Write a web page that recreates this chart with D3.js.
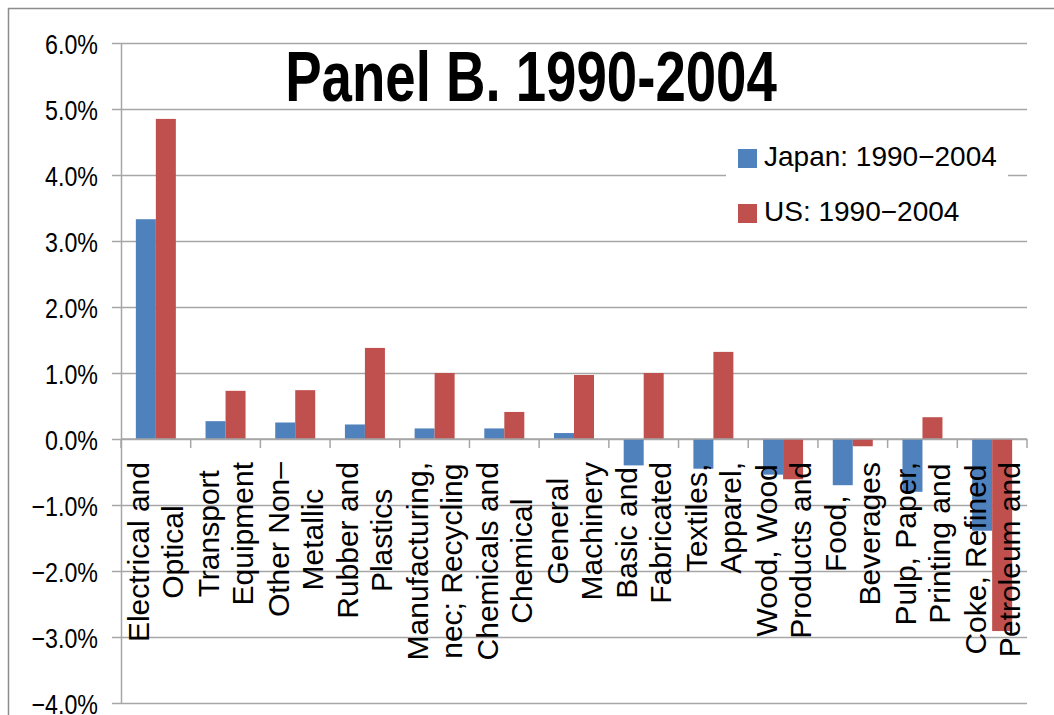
<!DOCTYPE html>
<html>
<head>
<meta charset="utf-8">
<script src="https://cdn.jsdelivr.net/npm/d3@7"></script>
<style>
  body { margin: 0; background: #fff; }
  svg { display: block; font-family: "Liberation Sans", Arial, sans-serif; }
</style>
</head>
<body>
<svg id="chart" width="1054" height="715"></svg>
<script>
// category labels, two lines each as wrapped in the original
const categories = [
  ['Electrical and', 'Optical'],
  ['Transport', 'Equipment'],
  ['Other Non\u2013', 'Metallic'],
  ['Rubber and', 'Plastics'],
  ['Manufacturing,', 'nec; Recycling'],
  ['Chemicals and', 'Chemical'],
  ['General', 'Machinery'],
  ['Basic and', 'Fabricated'],
  ['Textiles,', 'Apparel,'],
  ['Wood, Wood', 'Products and'],
  ['Food,', 'Beverages'],
  ['Pulp, Paper,', 'Printing and'],
  ['Coke, Refined', 'Petroleum and'],
];

const seriesNames = ['Japan: 1990\u22122004', 'US: 1990\u22122004'];
const seriesColors = ['#4F81BD', '#C0504D'];

// growth rates
const japan = [0.0333, 0.0027, 0.0025, 0.0022, 0.0016, 0.0016, 0.0009,
  -0.0040, -0.0045, -0.0054, -0.0070, -0.0080, -0.0139];
const us = [0.0485, 0.0073, 0.0074, 0.0138, 0.0100, 0.0041, 0.0097,
  0.0100, 0.0132, -0.0061, -0.0011, 0.0033, -0.0291];

const yTicks = [-0.04, -0.03, -0.02, -0.01, 0, 0.01, 0.02, 0.03, 0.04, 0.05, 0.06];

const margin = {top: 43, right: 1027, bottom: 703, left: 121};
const gridColor = '#a6a6a6';

const svg = d3.select('#chart');

// outer chart border (runs off the page on the right and bottom)
svg.append('rect')
    .attr('x', 8.5).attr('y', 8.5)
    .attr('width', 1100).attr('height', 800)
    .attr('fill', 'none')
    .attr('stroke', '#8c8c8c')
    .attr('stroke-width', 1.5);

const x0 = d3.scaleBand()
    .domain(d3.range(categories.length))
    .range([margin.left, margin.right]);

const bw = x0.bandwidth();
const x1 = d3.scaleBand()
    .domain([0, 1])
    .range([bw / 2 - 20, bw / 2 + 20]);

const y = d3.scaleLinear()
    .domain([-0.04, 0.06])
    .range([margin.bottom, margin.top]);

const fmt = d3.format('.1%');

// gridlines + y axis
const yAxis = svg.append('g')
    .attr('transform', `translate(${margin.left},0)`)
    .call(d3.axisLeft(y).tickValues(yTicks).tickFormat(fmt)
        .tickSize(9).tickSizeOuter(0));
yAxis.select('.domain').attr('stroke', gridColor).attr('stroke-width', 1.5);
yAxis.selectAll('.tick line').attr('stroke', gridColor).attr('stroke-width', 1.5);
yAxis.selectAll('.tick').append('line')
    .attr('x1', 0).attr('x2', margin.right - margin.left)
    .attr('stroke', gridColor).attr('stroke-width', 1.5);
yAxis.selectAll('.tick text')
    .attr('x', 0).attr('dy', null).attr('y', 10)
    .attr('transform', 'translate(-23,0) scale(0.83,1)')
    .attr('font-size', 28)
    .attr('font-family', '"Liberation Sans", Arial, sans-serif')
    .attr('fill', '#000');

// title
svg.append('text')
    .attr('transform', 'translate(531,101) scale(0.78,1)')
    .attr('text-anchor', 'middle')
    .attr('font-size', 70)
    .attr('font-weight', 'bold')
    .text('Panel B. 1990-2004');

// bars
const groups = svg.append('g')
    .selectAll('g')
    .data(categories.map((c, i) => [japan[i], us[i]]))
    .join('g')
    .attr('transform', (d, i) => `translate(${x0(i)},0)`);

groups.selectAll('rect')
    .data((d) => d)
    .join('rect')
    .attr('x', (d, j) => x1(j))
    .attr('width', x1.bandwidth())
    .attr('y', (d) => y(Math.max(0, d)))
    .attr('height', (d) => Math.abs(y(d) - y(0)))
    .attr('fill', (d, j) => seriesColors[j]);

// x axis line with category ticks
const xAxis = svg.append('g')
    .attr('transform', `translate(0,${y(0)})`);
xAxis.append('line')
    .attr('x1', margin.left).attr('x2', margin.right)
    .attr('stroke', gridColor).attr('stroke-width', 1.5);
xAxis.selectAll('.ctick')
    .data(d3.range(categories.length + 1))
    .join('line')
    .attr('class', 'ctick')
    .attr('x1', (i) => margin.left + i * bw)
    .attr('x2', (i) => margin.left + i * bw)
    .attr('y1', 0).attr('y2', 9)
    .attr('stroke', gridColor).attr('stroke-width', 1.5);

// rotated two-line category labels, drawn over the bars
const labelTop = 462;
const labels = svg.append('g')
    .attr('font-size', 30)
    .attr('fill', '#000');
categories.forEach((lines, i) => {
  const cx = x0(i) + bw / 2;
  const g = labels.append('g');
  const texts = g.selectAll('text')
      .data(lines)
      .join('text')
      .attr('text-anchor', 'middle')
      .text((d) => d);
  const maxLen = d3.max(texts.nodes(), (n) => n.getComputedTextLength());
  const cy = labelTop + maxLen / 2;
  texts.attr('transform', (d, k) =>
    `translate(${cx - 6.5 + k * 34},${cy}) rotate(-90)`);
});

// legend
const legend = svg.append('g');
legend.append('rect')
    .attr('x', 726).attr('y', 136)
    .attr('width', 282).attr('height', 98)
    .attr('fill', '#fff');
seriesNames.forEach((name, i) => {
  legend.append('rect')
      .attr('x', 738).attr('y', 149 + i * 55)
      .attr('width', 19).attr('height', 19)
      .attr('fill', seriesColors[i]);
  legend.append('text')
      .attr('x', 764).attr('y', 166 + i * 55)
      .attr('font-size', 28)
      .text(name);
});
</script>
</body>
</html>
